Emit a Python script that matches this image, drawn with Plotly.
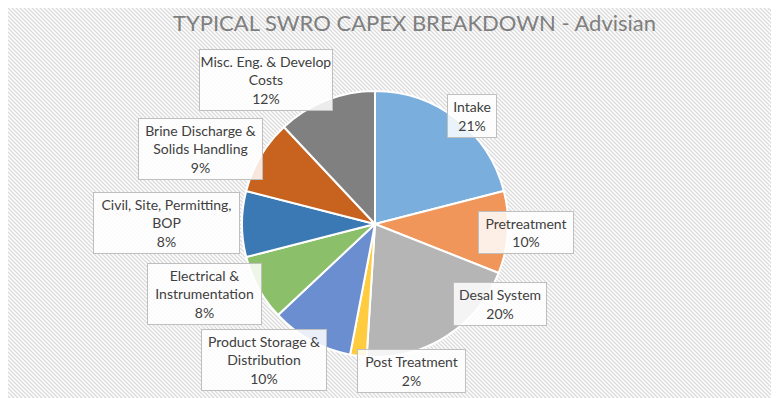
import plotly.graph_objects as go
import base64

categories = ["Intake", "Pretreatment", "Desal System", "Post Treatment",
              "Product Storage & Distribution", "Electrical & Instrumentation",
              "Civil, Site, Permitting, BOP", "Brine Discharge & Solids Handling",
              "Misc. Eng. & Develop Costs"]
values = [21, 10, 20, 2, 10, 8, 8, 9, 12]
label_lines = [["Intake"], ["Pretreatment"], ["Desal System"], ["Post Treatment"],
               ["Product Storage &", "Distribution"], ["Electrical &", "Instrumentation"],
               ["Civil, Site, Permitting,", "BOP"], ["Brine Discharge &", "Solids Handling"],
               ["Misc. Eng. & Develop", "Costs"]]
colors = ["#7AAEDD", "#F0965A", "#B5B5B5", "#FFCC40", "#6A8ED0",
          "#8CBF6A", "#3A79B3", "#C8621F", "#808080"]

W, H = 779, 398
OFF = 8  # page body margin offset
# label box centers (page px) and sizes (px)
box_centers = [(472, 116), (526, 233), (500, 304), (412, 371), (264, 360),
               (205, 294), (166, 223), (200, 149), (266, 80)]
box_sizes = [(50, 44), (96, 43), (94, 44), (109, 44), (126, 62),
             (115, 62), (147, 62), (125, 62), (134, 62)]

cx, cy, r = 375 - OFF, 224 - OFF, 133

fig = go.Figure()
fig.add_trace(go.Pie(
    labels=categories, values=values, sort=False, direction="clockwise",
    marker=dict(colors=colors, line=dict(color="white", width=2)),
    textinfo="none", hoverinfo="label+percent", showlegend=False,
    domain=dict(x=[(cx - r) / W, (cx + r) / W], y=[1 - (cy + r) / H, 1 - (cy - r) / H]),
))

annotations = []
for lines, v, (bx, by), (bw, bh) in zip(label_lines, values, box_centers, box_sizes):
    annotations.append(dict(
        x=(bx - OFF) / W, y=1 - (by - OFF) / H, xref="paper", yref="paper",
        text="<br>".join(lines + [f"{v}%"]), showarrow=False,
        font=dict(family="Lato", size=14, color="#404040"),
        bgcolor="rgba(255,255,255,0.85)", bordercolor="#BFBFBF", borderwidth=1,
        borderpad=0, width=bw - 2, height=bh - 2, align="center", valign="middle",
        xanchor="center", yanchor="middle",
    ))

# title as an annotation anchored at the top edge
annotations.append(dict(
    x=(414 - OFF) / W, y=1, xref="paper", yref="paper",
    text="TYPICAL SWRO CAPEX BREAKDOWN - Advisian", showarrow=False,
    xanchor="center", yanchor="top", borderpad=0,
    font=dict(family="Lato", size=22, color="#7f7f7f"),
))

svg = ('<svg xmlns="http://www.w3.org/2000/svg" width="779" height="398">'
       '<defs><pattern id="p" width="4" height="4" patternUnits="userSpaceOnUse">'
       '<rect width="4" height="4" fill="#ffffff"/>'
       '<path d="M-1,-1 L5,5 M3,-1 L5,1 M-1,3 L1,5" stroke="#dadada" stroke-width="1.3"/>'
       '</pattern></defs><rect width="779" height="398" fill="url(#p)"/></svg>')
src = "data:image/svg+xml;base64," + base64.b64encode(svg.encode()).decode()

fig.update_layout(
    width=W, height=H, margin=dict(l=0, r=0, t=0, b=0),
    paper_bgcolor="#ececec",
    annotations=annotations,
    images=[dict(source=src, xref="paper", yref="paper", x=0, y=1, sizex=1, sizey=1,
                 xanchor="left", yanchor="top", sizing="stretch", layer="below")],
)

fig.write_html("out.html")
